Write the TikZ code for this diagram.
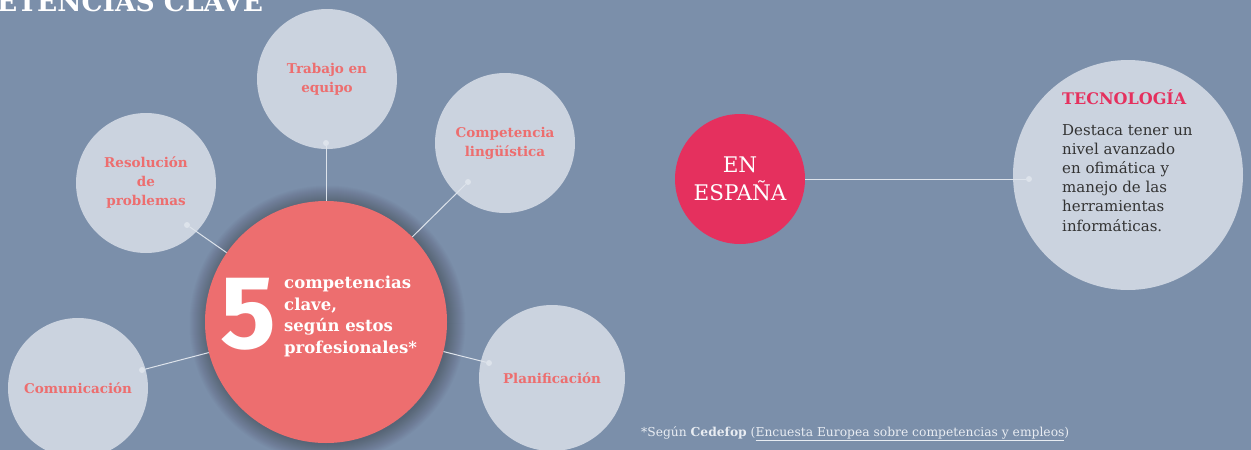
\documentclass[tikz,border=0pt]{standalone}
\usepackage{fontspec}
\setmainfont{DejaVu Serif}
\newfontfamily\numfont{Fira Sans}
\definecolor{bg}{RGB}{123,143,170}
\definecolor{light}{RGB}{203,211,223}
\definecolor{salmon}{RGB}{237,110,111}
\definecolor{crimson}{RGB}{229,48,94}
\definecolor{linec}{RGB}{221,227,235}
\definecolor{darktext}{RGB}{51,51,51}
\definecolor{foot}{RGB}{232,236,242}
\begin{document}
\begin{tikzpicture}[x=1pt,y=-1pt,
  bubble/.style={circle, fill=light, minimum size=140pt, inner sep=0pt, align=center,
    font=\bfseries\fontsize{13.5}{19}\selectfont, text=salmon},
  dotnode/.style={circle, fill=linec, minimum size=6pt, inner sep=0pt},
  link/.style={draw=linec, line width=1pt}]
\useasboundingbox (0,0) rectangle (1251,450);
\fill[bg] (0,0) rectangle (1251,450);
% title
\node[anchor=base west, inner sep=0pt, text=white, font=\bfseries\fontsize{26.5}{26.5}\selectfont] (title) at (-3,11) {ETENCIAS CLAVE};
% bubbles
\node[bubble] (trabajo) at (327,79) {Trabajo en\\equipo};
\node[bubble] (ling) at (505,143) {Competencia\\lingüística};
\node[bubble] (resol) at (146,183) {Resolución\\de\\problemas};
\node[bubble] (comun) at (78,388) {Comunicación};
\node[bubble, minimum size=146pt] (plan) at (552,378) {Planificación};
% soft shadow of main circle
\foreach \r in {121,122,...,138} {
  \fill[black, opacity=0.014] (327.5,323.5) circle[radius=\r];
}
% main circle
\node[circle, fill=salmon, minimum size=242pt, inner sep=0pt] (main) at (326,322) {};
\node[anchor=base west, inner sep=0pt, text=white, font=\numfont\bfseries\fontsize{104}{104}\selectfont] (five) at (220,348) {5};
\node[anchor=base west, inner sep=0pt, text=white, align=left, font=\bfseries\fontsize{16.5}{21.5}\selectfont] (maintext) at (284,353) {competencias\\clave,\\según estos\\profesionales*};
% dots
\node[dotnode] (dT) at (326,143) {};
\node[dotnode] (dL) at (468,182) {};
\node[dotnode] (dR) at (187,225) {};
\node[dotnode] (dC) at (142,370) {};
\node[dotnode] (dP) at (489,363) {};
\draw[link] (dT) -- (main);
\draw[link] (dL) -- (main);
\draw[link] (dR) -- (main);
\draw[link] (dC) -- (main);
\draw[link] (dP) -- (main);
% Spain
\node[circle, fill=crimson, minimum size=130pt, inner sep=0pt, text=white, align=center, font=\fontsize{21.5}{28}\selectfont] (espana) at (740,179) {EN\\ESPAÑA};
\node[circle, fill=light, minimum size=230pt, inner sep=0pt] (tec) at (1128,175) {};
\node[dotnode] (dTec) at (1029,179) {};
\draw[link] (espana) -- (dTec);
\node[anchor=base west, inner sep=0pt, text=crimson, font=\bfseries\fontsize{16}{19}\selectfont] (tectitle) at (1062,104) {TECNOLOGÍA};
\node[anchor=base west, inner sep=0pt, text=darktext, align=left, font=\fontsize{15}{19.2}\selectfont] (tectext) at (1062,231) {Destaca tener un\\nivel avanzado\\en ofimática y\\manejo de las\\herramientas\\informáticas.};
% footnote
\node[anchor=base west, inner sep=0pt, text=foot, font=\fontsize{12.3}{14}\selectfont] (footnote) at (641,436) {*Según \textbf{Cedefop} (\underline{Encuesta Europea sobre competencias y empleos})};
\end{tikzpicture}
\end{document}
